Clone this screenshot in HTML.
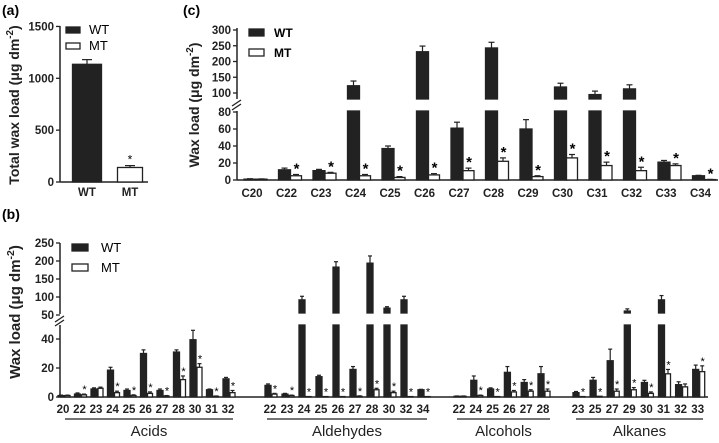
<!DOCTYPE html>
<html><head><meta charset="utf-8"><style>
html,body{margin:0;padding:0;background:#fff}
svg{display:block;font-family:"Liberation Sans",Arial,sans-serif}
.tk{font-size:11.5px;font-weight:bold;fill:#222}
</style></head><body>
<svg id="fig" width="719" height="443" viewBox="0 0 719 443"></svg>
<script>
// ---------- Panel (a) data ----------
const aCats=["WT","MT"];
const aVals=[1135,140];
const aErr=[45,18];
const aTicks=[0,500,1000,1500];
// ---------- Panel (c) data ----------
const cCats=["C20","C22","C23","C24","C25","C26","C27","C28","C29","C30","C31","C32","C33","C34"];
const cWT=[1,12,11,123,37,231,61,243,60,119,95,113,21,5];
const cWTerr=[0.5,2,1.5,15,3,18,7,18,11,12,11,13,2,0.5];
const cMT=[1,5,8,5,3,6,11,22,4,26,17,11,17,0.5];
const cMTerr=[0.3,1.5,1,1.5,1,1.5,3,4,1,4,4,4,2,0.2];
const cSig=[0,1,1,1,1,1,1,1,1,1,1,1,1,1];
const cTicksLow=[0,20,40,60,80];
const cTicksHigh=[100,150,200,250,300];
// ---------- Panel (b) data ----------
const bGroups=["Acids","Aldehydes","Alcohols","Alkanes"];
const bCats=[["20","22","23","24","25","26","27","28","30","31","32"],["22","23","24","25","26","27","28","30","32","34"],["22","24","25","26","27","28"],["23","25","27","29","30","31","32","33"]];
const bWT=[[1,2,5.5,18.5,4.5,30,4.5,31,39.5,5,12.5],[8,2,92,14,183,19,194,69,92,5],[0.5,11.5,5.5,17,10,16],[3,11.5,25,61,10,92,8.5,19]];
const bWTerr=[[0.3,0.8,0.8,2,1,2.5,1,1.5,6.5,0.5,1],[1,0.5,10,1,15,2,20,4,10,0.3],[0.2,3,0.8,4,2,5],[0.8,2,8,6,1.5,12,2,3]];
const bMT=[[1,1.5,6,3,1,2.5,0.7,12,20.5,0.5,3],[2,1,0.3,0.3,0.3,0.5,5,3,0.3,0.3],[0.5,1,0.3,3.5,4,4],[0.3,0.5,4,5,2.5,16,7,17.5]];
const bMTerr=[[0.3,0.5,0.8,1,0.5,1,0.3,2.5,2.5,0.2,1.5],[0.5,0.3,0,0,0,0.3,1,1,0,0],[0.2,0.3,0,1,1,1.5],[0,0,1.5,1.5,1,3,2,4]];
const bSig=[[0,1,0,1,1,1,1,1,1,1,1],[1,1,1,1,1,1,1,1,1,1],[0,1,1,1,1,1],[1,1,1,1,1,1,0,1]];
const bTicksLow=[0,20,40];
const bTicksHigh=[50,100,150,200,250];

const NS="http://www.w3.org/2000/svg";
const svg=document.getElementById("fig");
function mk(tag,attrs,txt,parent){
  const e=document.createElementNS(NS,tag);
  for(const k in attrs)e.setAttribute(k,attrs[k]);
  if(txt!==undefined)e.textContent=txt;
  (parent||svg).appendChild(e);return e;
}
function line(x1,y1,x2,y2,w,name){
  const l=mk("line",{x1:x1,y1:y1,x2:x2,y2:y2,stroke:"#222","stroke-width":w||1.5});
  
  
  return l;
}
function text(x,y,s,cls,anchor,name,extra){
  const t=mk("text",Object.assign({x:x,y:y,"text-anchor":anchor||"middle"},extra||{}),s);
  if(cls)t.setAttribute("class",cls);
  
  
  return t;
}
function rect(x,y,w,h,fill,name){
  const r=mk("rect",{x:x,y:y,width:w,height:h,fill:fill,stroke:"#222","stroke-width":1.3});
  
  
  return r;
}
function ytitle(x,y,fs){
  const t=mk("text",{x:0,y:0,"text-anchor":"middle","font-size":fs,"font-weight":"bold",fill:"#222",transform:"translate("+x+","+y+") rotate(-90)"});
  
  
  t.appendChild(document.createTextNode(arguments[3]+" (μg dm"));
  mk("tspan",{dy:-6,"font-size":fs*0.7},"-2",t);
  mk("tspan",{dy:6},")",t);
}
function errbar(x,yTop,yErr,cw){
  line(x,yTop,x,yErr,1.2,'error-bar');
  line(x-cw,yErr,x+cw,yErr,1.2,'error-cap');
}

// ================= Panel (a) =================
const aY=v=>182-v*0.1037;
const aX=[87,130];
text(2,15,"(a)",null,"start","panel-a-label",{"font-size":14,"font-weight":"bold"});
line(60,26,60,182);line(60,182,148,182);
aTicks.forEach(t=>{line(56,aY(t),60,aY(t),1.3,'y-tick');text(54,aY(t)+4,t,"tk","end","y-tick-label");});
aVals.forEach((v,i)=>{
  const w=i==0?29:25, x=aX[i]-w/2;
  errbar(aX[i],aY(v),aY(v+aErr[i]),5);
  rect(x,aY(v),w,182-aY(v),i==0?"#222":"#fff","bar-"+aCats[i].toLowerCase());
  text(aX[i],196,aCats[i],"tk","middle","x-tick-label",{"font-size":12});
});
text(aX[1],aY(aVals[1]+aErr[1])-2,"*",null,"middle","significance-star",{"font-size":12});
ytitle(19,105,14,"Total wax load");
rect(66,27,14,6,"#222","legend-wt-swatch");rect(66,43,14,6,"#fff","legend-mt-swatch");
text(89,34,"WT",null,"start","legend-wt-label",{"font-size":13});
text(89,50,"MT",null,"start","legend-mt-label",{"font-size":13});

// ================= Panel (c) =================
const cLow=v=>180-v*0.85;
const cHigh=v=>93-(v-100)*0.315;
const cX=i=>252+i*34.5+4;
text(183,15,"(c)",null,"start","panel-c-label",{"font-size":14,"font-weight":"bold"});
line(237,28,237,99);line(237,111,237,180);line(237,180,718,180);
line(232,106,241,100,1.3,'axis-break');line(232,110,241,104,1.3,'axis-break');
cTicksLow.forEach(t=>{line(233,cLow(t),237,cLow(t),1.3,'y-tick');text(231,cLow(t)+4,t,"tk","end","y-tick-label");});
cTicksHigh.forEach(t=>{line(233,cHigh(t),237,cHigh(t),1.3,'y-tick');text(231,cHigh(t)+4,t,"tk","end","y-tick-label");});
function cBar(x,w,v,fill,name){
  if(v<=80){rect(x,cLow(v),w,180-cLow(v),fill,name);return cLow(v);}
  rect(x,111,w,69,fill,name);
  const top=cHigh(v);rect(x,top,w,99-top,fill,name+'-upper');return top;
}
cCats.forEach((c,i)=>{
  const cx=cX(i);
  const eW=cWT[i]>80?cHigh(cWT[i]+cWTerr[i]):cLow(cWT[i]+cWTerr[i]);
  const tW=cWT[i]>80?cHigh(cWT[i]):cLow(cWT[i]);
  errbar(cx-6,tW,eW,3);
  cBar(cx-12,12,cWT[i],"#222","bar-wt-"+c.toLowerCase());
  const eM=cLow(cMT[i]+cMTerr[i]);
  errbar(cx+5.5,cLow(cMT[i]),eM,3);
  cBar(cx,11,cMT[i],"#fff","bar-mt-"+c.toLowerCase());
  if(cSig[i])text(cx+6,eM-1,"*",null,"middle","significance-star",{"font-size":15,"font-weight":"bold"});
  text(cx-4,197,c,"tk","middle","x-tick-label",{"font-size":12});
});
ytitle(199,105,14,"Wax load");
rect(249,29,15,7,"#222","legend-wt-swatch");rect(249,49,15,7,"#fff","legend-mt-swatch");
text(274,37,"WT",null,"start","legend-wt-label",{"font-size":12,"font-weight":"bold"});
text(274,57,"MT",null,"start","legend-mt-label",{"font-size":12,"font-weight":"bold"});

// ================= Panel (b) =================
const bLow=v=>397-v*1.45;
const bHigh=v=>315-(v-50)*0.36;
const bStart=[63,270,459,578], bStep=[16.5,17,16.8,17.1];
const bLine=[[65,233],[267,427],[457,550],[576,703]];
text(2,219,"(b)",null,"start","panel-b-label",{"font-size":14,"font-weight":"bold"});
line(60,243,60,314);line(60,325,60,397);line(60,397,708,397);
line(55,322,64,316,1.3,'axis-break');line(55,326,64,320,1.3,'axis-break');
bTicksLow.forEach(t=>{line(56,bLow(t),60,bLow(t),1.3,'y-tick');text(54,bLow(t)+4,t,"tk","end","y-tick-label",{"font-size":12.5});});
bTicksHigh.forEach(t=>{line(56,bHigh(t),60,bHigh(t),1.3,'y-tick');text(54,bHigh(t)+4,t,"tk","end","y-tick-label",{"font-size":12.5});});
const bY=v=>v>49?bHigh(v):bLow(v);
function bBar(x,w,v,fill,name){
  if(v<=49){rect(x,bLow(v),w,397-bLow(v),fill,name);return;}
  rect(x,325,w,72,fill,name);
  const top=bHigh(v);rect(x,top,w,313-top,fill,name+'-upper');
}
bGroups.forEach((g,gi)=>{
  bCats[gi].forEach((c,i)=>{
    const cx=bStart[gi]+i*bStep[gi]+1;
    const wv=bWT[gi][i], mv=bMT[gi][i];
    errbar(cx-3,bY(wv),bY(wv+bWTerr[gi][i]),2);
    bBar(cx-6,6,wv,"#222","bar-wt-"+g.toLowerCase()+"-"+c);
    const eM=bLow(mv+bMTerr[gi][i]);
    if(bMTerr[gi][i]>0)errbar(cx+3.5,bLow(mv),eM,2);
    bBar(cx+1,5,mv,"#fff","bar-mt-"+g.toLowerCase()+"-"+c);
    if(bSig[gi][i])text(cx+4,Math.min(eM,397)-1,"*",null,"middle","significance-star",{"font-size":11});
    text(cx-1,413,c,"tk","middle","x-tick-label",{"font-size":12});
  });
  line(bLine[gi][0],419,bLine[gi][1],419,1.2,'group-underline');
  text((bLine[gi][0]+bLine[gi][1])/2,436,g,null,"middle","group-label-"+g.toLowerCase(),{"font-size":15,fill:"#222"});
});
ytitle(20,312,15,"Wax load");
rect(72,244,16,7,"#222","legend-wt-swatch");rect(72,264,16,7,"#fff","legend-mt-swatch");
text(101,252,"WT",null,"start","legend-wt-label",{"font-size":13});
text(101,272,"MT",null,"start","legend-mt-label",{"font-size":13});
</script>
</body></html>
